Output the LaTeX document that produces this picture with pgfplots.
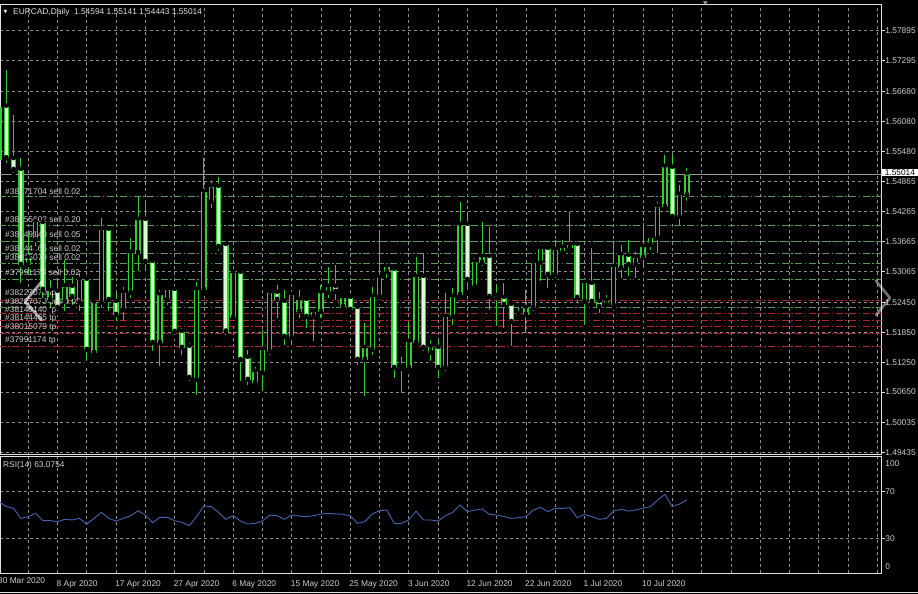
\documentclass[border=0pt]{standalone}
\usepackage{pgfplots}
\pgfplotsset{compat=1.18}
\usepackage{pgfplotstable}
\usepackage{fontspec}
\setmainfont{Liberation Sans}
\newfontfamily\dejavu{DejaVu Sans}

\definecolor{candle}{RGB}{50,205,50}
\definecolor{bearfill}{RGB}{215,255,205}
\definecolor{gridc}{RGB}{140,140,140}
\definecolor{framec}{RGB}{225,225,225}
\definecolor{txt}{RGB}{205,205,205}
\definecolor{sellc}{RGB}{95,150,95}
\definecolor{tpc}{RGB}{175,35,45}
\definecolor{rsic}{RGB}{70,100,175}
\definecolor{pricec}{RGB}{150,150,150}

\newcommand\mt{\fontsize{8.4}{9}\selectfont}

% EURCAD daily candles, bar index i (30 Mar 2020 = 0)
\pgfplotstableread{
i o h l c
0 1.55303 1.56606 1.55203 1.56365
1 1.56371 1.57107 1.55203 1.55337
2 1.55317 1.56205 1.55002 1.55102
3 1.55102 1.55337 1.52797 1.53198
4 1.53198 1.53839 1.52957 1.53338
5 1.53699 1.54140 1.53539 1.54060
6 1.54034 1.54100 1.52496 1.52697
7 1.52496 1.52897 1.52296 1.52677
8 1.52657 1.52897 1.52236 1.52336
9 1.52462 1.53298 1.52236 1.52763
10 1.52757 1.52957 1.52356 1.52556
11 1.52436 1.53037 1.52236 1.52897
12 1.52897 1.52937 1.51233 1.51494
13 1.51434 1.52496 1.51374 1.52436
14 1.52436 1.54140 1.52296 1.53900
15 1.53900 1.53960 1.52236 1.52496
16 1.52456 1.52637 1.52035 1.52195
17 1.52296 1.52757 1.52035 1.52637
18 1.52637 1.53739 1.52496 1.53438
19 1.53438 1.54561 1.53037 1.54100
20 1.54100 1.54441 1.53037 1.53258
21 1.53258 1.53298 1.51434 1.51634
22 1.51634 1.52697 1.51133 1.52596
23 1.52496 1.52757 1.52356 1.52697
24 1.52697 1.52737 1.51754 1.51855
25 1.51855 1.51935 1.51354 1.51534
26 1.51554 1.51634 1.50833 1.50933
27 1.50893 1.52857 1.50552 1.52697
28 1.52697 1.55343 1.52637 1.54661
29 1.54467 1.54868 1.54300 1.54767
30 1.54761 1.54962 1.53438 1.53559
31 1.53599 1.53659 1.51754 1.51861
32 1.52135 1.53098 1.52035 1.53037
33 1.53037 1.53057 1.50833 1.51293
34 1.51334 1.51494 1.50752 1.50893
35 1.50833 1.51153 1.50752 1.51053
36 1.51033 1.51895 1.50632 1.51494
37 1.51454 1.52697 1.51354 1.52637
38 1.52637 1.52797 1.52095 1.52496
39 1.52456 1.52697 1.51554 1.51754
40 1.51734 1.52697 1.51554 1.52596
41 1.52256 1.52697 1.52095 1.52496
42 1.52496 1.52556 1.51895 1.52155
43 1.52155 1.52356 1.51634 1.52256
44 1.52256 1.52797 1.52095 1.52637
45 1.52637 1.53158 1.52496 1.52757
46 1.52757 1.53198 1.52456 1.52657
47 1.52356 1.52596 1.52296 1.52536
48 1.52536 1.52556 1.52236 1.52296
49 1.52336 1.52356 1.51153 1.51293
50 1.51293 1.52035 1.50532 1.51534
51 1.51494 1.52757 1.51354 1.52556
52 1.52556 1.53900 1.52456 1.52937
53 1.53058 1.53238 1.52897 1.53158
54 1.53098 1.53138 1.50893 1.51133
55 1.51153 1.51354 1.50592 1.51113
56 1.51133 1.52035 1.51053 1.51654
57 1.51634 1.53358 1.51554 1.52957
58 1.52957 1.53438 1.51434 1.51534
59 1.51434 1.51694 1.51233 1.51554
60 1.51534 1.51694 1.50893 1.51133
61 1.51133 1.52637 1.51033 1.52155
62 1.52155 1.52737 1.51955 1.52556
63 1.52596 1.54461 1.52536 1.54000
64 1.54000 1.54200 1.52657 1.52897
65 1.52757 1.53338 1.52697 1.53258
66 1.53238 1.54060 1.53138 1.53358
67 1.53358 1.53960 1.52256 1.52556
68 1.52576 1.52797 1.51935 1.52536
69 1.52536 1.52837 1.51895 1.52396
70 1.52396 1.52456 1.51534 1.52055
71 1.52215 1.52336 1.52135 1.52175
72 1.52195 1.52697 1.51795 1.52336
73 1.52336 1.53298 1.52236 1.53238
74 1.53238 1.53539 1.52837 1.53519
75 1.53519 1.53539 1.52697 1.52997
76 1.52997 1.53699 1.52897 1.53499
77 1.53438 1.53699 1.53358 1.53539
78 1.53539 1.54261 1.53458 1.53599
79 1.53599 1.53659 1.52396 1.52536
80 1.52456 1.52937 1.51955 1.52837
81 1.52817 1.53539 1.52396 1.52456
82 1.52456 1.52657 1.52195 1.52356
83 1.52476 1.52596 1.52296 1.52396
84 1.52376 1.53599 1.52336 1.53158
85 1.53138 1.53599 1.52897 1.53398
86 1.53378 1.53699 1.52937 1.53198
87 1.53198 1.53458 1.52897 1.53338
88 1.53338 1.54040 1.53098 1.53559
89 1.53599 1.53799 1.53458 1.53739
90 1.53739 1.54461 1.53398 1.54361
91 1.54361 1.55403 1.54341 1.55162
92 1.55142 1.55403 1.54100 1.54160
93 1.54160 1.54802 1.53940 1.54601
94 1.54594 1.55141 1.54443 1.55014
}\candles

% RSI(14)
\pgfplotstableread{
i r
0 61.5
1 57.2
2 55.7
3 47.1
4 48.6
5 51.4
6 45.1
7 45.1
8 44.3
9 46.3
10 45.7
11 47.1
12 42.2
13 47.1
14 52.3
15 47.1
16 44.8
17 47.1
18 49.4
19 53.7
20 50.0
21 43.4
22 48.0
23 48.0
24 45.1
25 43.7
26 40.8
27 48.6
28 57.8
29 57.2
30 52.3
31 46.3
32 49.4
33 44.8
34 42.2
35 42.8
36 44.8
37 50.0
38 49.4
39 46.3
40 50.0
41 49.1
42 48.6
43 49.4
44 50.9
45 51.4
46 50.9
47 50.6
48 49.4
49 42.8
50 44.3
51 50.9
52 53.7
53 54.3
54 42.8
55 42.8
56 45.7
57 53.4
58 45.7
59 45.7
60 44.8
61 49.4
62 52.3
63 58.6
64 52.9
65 54.3
66 55.2
67 50.6
68 50.0
69 48.6
70 47.1
71 47.7
72 48.6
73 54.3
74 56.6
75 52.9
76 55.7
77 55.7
78 56.3
79 47.7
80 50.6
81 48.6
82 46.3
83 47.1
84 53.4
85 54.9
86 53.4
87 54.3
88 55.7
89 57.2
90 62.9
91 67.8
92 57.2
93 59.5
94 63.07
}\rsi

\pgfplotsset{
  mtpanel/.style={
    scale only axis, width=881.7bp,
    xmin=0.1435, xmax=120.61,
    axis line style={framec, line width=1bp},
    grid=major,
    major grid style={gridc, line width=0.7bp, dash pattern=on 3bp off 3bp},
    xtick={4,8,...,120},
    major x tick style={draw=none},
    ytick pos=right, yticklabel pos=right,
    tick align=outside, major tick length=3bp,
    major y tick style={framec, line width=0.8bp},
    yticklabel style={font=\mt, text=txt, inner sep=0.5bp},
  },
  wick/.style={only marks, mark=none, forget plot,
    error bars/.cd, y dir=plus, y explicit, error mark=none,
    error bar style={candle, line width=1bp}},
  body/.style={only marks, mark=none, forget plot,
    error bars/.cd, y dir=plus, y explicit, error mark=none,
    error bar style={#1}},
  orderline/.style={#1, line width=0.8bp,
    dash pattern=on 7bp off 2.5bp on 1.5bp off 2.5bp, forget plot},
}
\tikzset{olabel/.style={font=\mt, text=txt, anchor=west, inner sep=0pt}}

\begin{document}
\begin{tikzpicture}
\path[use as bounding box] (0,0) rectangle (918bp,594bp);
\fill[black] (0,0) rectangle (918bp,594bp);

% price panel
\begin{axis}[mtpanel, at={(0,139bp)}, anchor=south west, height=450bp,
  ymin=1.493889, ymax=1.584101,
  xticklabels={},
  ytick={1.49435,1.50035,1.50650,1.51250,1.51850,1.52450,1.53065,1.53665,
         1.54265,1.54865,1.55480,1.56080,1.56680,1.57295,1.57895},
  yticklabels={1.49435,1.50035,1.50650,1.51250,1.51850,1.52450,1.53065,1.53665,
         1.54265,1.54865,1.55480,1.56080,1.56680,1.57295,1.57895}]

% sell orders and their take profits
\addplot[orderline=sellc] coordinates {(0,1.54567)(121,1.54567)};
\addplot[orderline=sellc] coordinates {(0,1.53999)(121,1.53999)};
\addplot[orderline=sellc] coordinates {(0,1.53679)(121,1.53679)};
\addplot[orderline=sellc] coordinates {(0,1.53432)(121,1.53432)};
\addplot[orderline=sellc] coordinates {(0,1.53232)(121,1.53232)};
\addplot[orderline=sellc] coordinates {(0,1.52911)(121,1.52911)};
\addplot[orderline=sellc] coordinates {(0,1.52342)(121,1.52342)};
\addplot[orderline=tpc] coordinates {(0,1.52496)(121,1.52496)};
\addplot[orderline=tpc] coordinates {(0,1.52230)(121,1.52230)};
\addplot[orderline=tpc] coordinates {(0,1.52095)(121,1.52095)};
\addplot[orderline=tpc] coordinates {(0,1.51961)(121,1.51961)};
\addplot[orderline=tpc] coordinates {(0,1.51829)(121,1.51829)};
\addplot[orderline=tpc] coordinates {(0,1.51560)(121,1.51560)};

% bid line
\addplot[pricec, line width=0.8bp, forget plot] coordinates {(0,1.55014)(121,1.55014)};

% candles: wick, green body, then black (bull) or pale (bear) inside
\addplot[wick] table[x=i, y=l, y error expr=\thisrow{h}-\thisrow{l}] {\candles};
\addplot[body={candle, line width=5.4bp}] table[x=i,
  y expr={min(\thisrow{o},\thisrow{c})},
  y error expr={max(abs(\thisrow{c}-\thisrow{o}),0.00014)}] {\candles};
\addplot[body={black, line width=2.8bp}] table[x=i,
  y expr={\thisrow{o}+0.00024},
  y error expr={(\thisrow{c}>\thisrow{o})*max(\thisrow{c}-\thisrow{o}-0.00048,0)}] {\candles};
\addplot[body={bearfill, line width=2.8bp}] table[x=i,
  y expr={\thisrow{c}+0.00024},
  y error expr={(\thisrow{o}>\thisrow{c})*max(\thisrow{o}-\thisrow{c}-0.00048,0)}] {\candles};

\node[olabel] at (axis cs:0.83,1.54667) {\#38171704 sell 0.02};
\node[olabel] at (axis cs:0.83,1.54100) {\#38155602 sell 0.20};
\node[olabel] at (axis cs:0.83,1.53799) {\#38149140 sell 0.05};
\node[olabel] at (axis cs:0.83,1.53519) {\#38144465 sell 0.02};
\node[olabel] at (axis cs:0.83,1.53338) {\#38015079 sell 0.02};
\node[olabel] at (axis cs:0.83,1.53044) {\#37991174 sell 0.02};
\node[olabel] at (axis cs:0.83,1.52631) {\#38227070 tp};
\node[olabel] at (axis cs:0.83,1.52462) {\#38227070 sell 0.02};
\node[olabel] at (axis cs:0.83,1.52296) {\#38149140 tp};
\node[olabel] at (axis cs:0.83,1.52129) {\#38144465 tp};
\node[olabel] at (axis cs:0.83,1.51949) {\#38015079 tp};
\node[olabel] at (axis cs:0.83,1.51680) {\#37991174 tp};
\end{axis}

% RSI panel
\begin{axis}[mtpanel, at={(0,21bp)}, anchor=south west, height=116bp,
  ymin=0, ymax=100, ytick={30,70}, yticklabels={30,70}, clip mode=individual,
  xticklabels={{},8 Apr 2020,{},17 Apr 2020,{},27 Apr 2020,{},6 May 2020,
    {},15 May 2020,{},25 May 2020,{},3 Jun 2020,{},12 Jun 2020,{},22 Jun 2020,
    {},1 Jul 2020,{},10 Jul 2020,{},{},{},{},{},{},{},{}},
  xticklabel style={font=\mt, text=txt, anchor=north west, inner sep=0pt,
    xshift=-1bp, yshift=-4bp}]
\addplot[rsic, line width=0.9bp] table[x=i, y=r] {\rsi};
\node[font=\mt, text=txt, anchor=north west, inner sep=0pt]
  at (axis cs:0,0) [xshift=-1bp, yshift=-4bp] {30 Mar 2020};
\node[font=\mt, text=txt, anchor=north west, inner sep=0pt]
  at (rel axis cs:1,1) [xshift=3.5bp, yshift=-3bp] {100};
\node[font=\mt, text=txt, anchor=south west, inner sep=0pt]
  at (rel axis cs:1,0) [xshift=3.5bp, yshift=3bp] {0};
\end{axis}

% bid price box on the scale
\node[font=\mt, fill=white, text=black, anchor=west, inner sep=0.8bp,
  minimum width=36bp] at (881.7bp,421.3bp) {1.55014};

% header texts
\node[font=\dejavu\fontsize{5}{5}\selectfont, text=framec, inner sep=0pt]
  at (5.5bp,582bp) {▼};
\node[font=\mt, text=framec, anchor=west, inner sep=0pt]
  at (13bp,582bp) {EURCAD,Daily\ \ 1.54594 1.55141 1.54443 1.55014};
\node[font=\mt, text=txt, anchor=west, inner sep=0pt]
  at (3bp,129bp) {RSI(14) 63.0754};
\node[font=\dejavu\fontsize{6}{6}\selectfont, text=gray!80, inner sep=0pt]
  at (705.5bp,590bp) {▼};

% window edge and player arrows
\draw[framec, line width=1bp] (0,1.3bp) -- (918bp,1.3bp);
\draw[white, opacity=0.6, line width=2.8bp, line cap=round, line join=round]
  (41.7bp,312.3bp) -- (25bp,292.3bp) -- (41.7bp,274bp);
\draw[white, opacity=0.45, line width=2.6bp, line cap=round, line join=round]
  (876bp,313bp) -- (890bp,296bp) -- (876bp,279bp);
\end{tikzpicture}
\end{document}
